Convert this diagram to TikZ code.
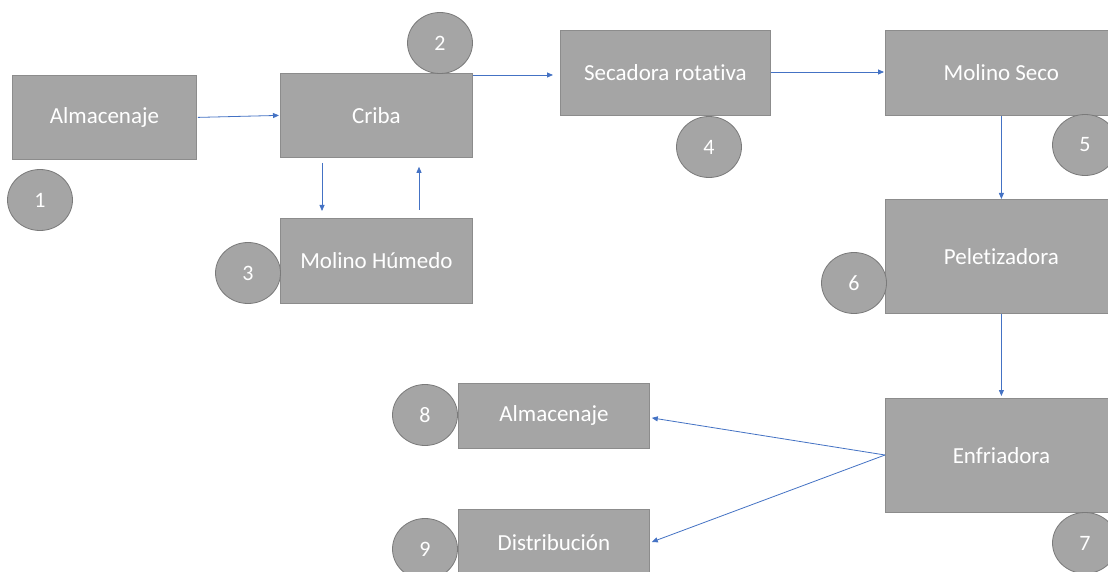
\documentclass[tikz,border=0pt]{standalone}
\usepackage{fontspec}
\setmainfont{Carlito}[Ligatures=NoCommon]
\usetikzlibrary{shapes.geometric,arrows.meta,calc}
\definecolor{boxgray}{HTML}{A5A5A5}
\definecolor{boxline}{HTML}{8C8C8C}
\definecolor{circline}{HTML}{7A7A7A}
\definecolor{arrowblue}{HTML}{4472C4}
\tikzset{
  procbox/.style={draw=boxline, line width=0.8pt, fill=boxgray, text=white,
    font=\fontsize{23}{27}\selectfont, inner sep=0pt, anchor=north west},
  numcirc/.style={ellipse, draw=circline, line width=0.8pt, fill=boxgray, text=white,
    font=\fontsize{22}{26}\selectfont, minimum width=65pt, minimum height=61pt, inner sep=0pt},
  flow/.style={draw=arrowblue, line width=0.8pt, -{Triangle[length=6pt,width=5pt]}}
}
\begin{document}
\begin{tikzpicture}[x=1pt,y=-1pt]
\useasboundingbox (0,0) rectangle (1108,572);
\clip (0,0) rectangle (1108,572);
\fill[white] (0,0) rectangle (1108,572);
% boxes
\node[procbox, minimum width=184pt, minimum height=84pt] (alm1) at (12,75) {Almacenaje};
\node[procbox, minimum width=192pt, minimum height=84pt] (cri) at (280,73) {Criba};
\node[procbox, minimum width=192pt, minimum height=85pt] (hum) at (280,218) {Molino Húmedo};
\node[procbox, minimum width=210pt, minimum height=85pt] (sec) at (560,30) {Secadora rotativa};
\node[procbox, minimum width=232pt, minimum height=85pt] (mse) at (885,30) {Molino Seco};
\node[procbox, minimum width=232pt, minimum height=114pt] (pel) at (885,199) {Peletizadora};
\node[procbox, minimum width=232pt, minimum height=114pt] (enf) at (885,398) {Enfriadora};
\node[procbox, minimum width=191pt, minimum height=65pt] (alm8) at (458,383) {Almacenaje};
\node[procbox, minimum width=191pt, minimum height=66pt] (dis) at (458,509) {Distribución};
% circles
\node[numcirc] (c1) at (40,200) {1};
\node[numcirc] (c2) at (440,43) {2};
\node[numcirc] (c3) at (248,273) {3};
\node[numcirc] (c4) at (709,147) {4};
\node[numcirc] (c5) at (1085,145) {5};
\node[numcirc] (c6) at (854,283) {6};
\node[numcirc] (c7) at (1085,543) {7};
\node[numcirc] (c8) at (425,415) {8};
\node[numcirc] (c9) at (425,549) {9};
% connectors
\coordinate (ea) at ($(alm1.east)+(1,0)$);
\coordinate (wc) at ($(cri.west)+(-1,0)$);
\draw[flow] (ea) -- (wc);
\draw[flow] ($(cri.south west)+(42,5)$) -- ($(hum.north west)+(42,-7)$);
\draw[flow] ($(hum.north west)+(139,-8)$) -- ($(cri.south west)+(139,9)$);
\draw[flow] ($(cri.north east)+(0,2)$) -- ($(sec.north west)+(-7,45)$);
\draw[flow] ($(sec.north east)+(0,42)$) -- ($(mse.north west)+(-1,42)$);
\draw[flow] (mse.south) -- (pel.north);
\draw[flow] (pel.south) -- ($(enf.north)+(0,-2)$);
\coordinate (ew) at ($(enf.north west)+(0,57)$);
\draw[flow] (ew) -- ($(alm8.east)+(2,2)$);
\draw[flow] (ew) -- ($(dis.north east)+(2,33)$);
\end{tikzpicture}
\end{document}
